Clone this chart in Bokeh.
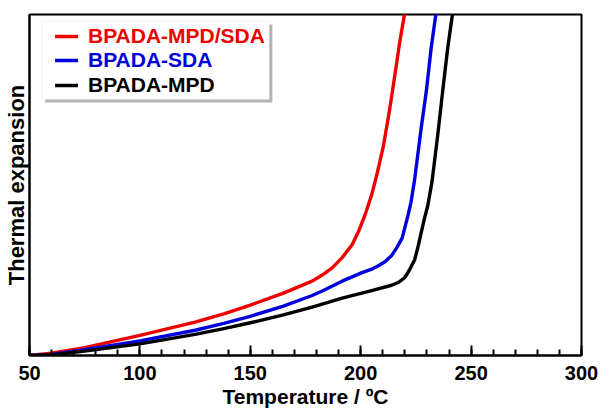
from bokeh.plotting import figure
from bokeh.models import Range1d, FixedTicker, Legend, LegendItem, BoxAnnotation
from bokeh.embed import file_html
from bokeh.resources import INLINE

# ---- data ----
red_x = [50, 60, 75, 100, 125, 138, 150, 165, 178, 182.6, 187.1, 191.6, 196.1, 199.1, 202.0,
         205.0, 207.3, 210.3, 213.2, 215.5, 217.7, 219.9, 220.3]
red_y = [0, 0.7, 2.3, 5.9, 9.8, 12.2, 14.8, 18.3, 21.8, 23.6, 25.7, 28.7, 32.5, 36.5, 41.3,
         47.2, 53.0, 61.5, 72.5, 82.3, 92.0, 100.3, 102.0]

blue_x = [50, 60, 75, 100, 125, 138, 150, 165, 178, 182.6, 191.6, 200.6, 205, 208, 211, 214,
          216.5, 218.8, 221.5, 222.8, 224.4, 227.4, 229.7, 231.9, 234.1, 234.4]
blue_y = [0, 0.3, 1.7, 4.3, 7.4, 9.4, 11.5, 14.5, 17.6, 18.9, 21.8, 24.3, 25.3, 26.3, 27.5, 29.3,
          31.8, 34.5, 41.3, 45.0, 51.5, 66.7, 77.4, 90.1, 100.3, 102.0]

black_x = [50, 60, 75, 100, 125, 138, 150, 165, 178, 191.6, 205, 214, 217, 219.9, 222, 224.4,
           226, 227.4, 229, 230.4, 232.3, 234.9, 237.1, 239.4, 241.6, 242.0]
black_y = [0, 0.2, 1.3, 3.4, 6.2, 7.9, 9.6, 11.9, 14.2, 16.8, 19.0, 20.6, 21.4, 22.8, 25.0, 28.0,
           32.0, 36.0, 40.5, 44.0, 51.0, 64.7, 77.4, 90.1, 100.3, 102.0]

series_names = ["BPADA-MPD/SDA", "BPADA-SDA", "BPADA-MPD"]
series_colors = ["#ee0000", "#0000dd", "#000000"]
x_ticks = [50, 100, 150, 200, 250, 300]
x_minor_ticks = [50, 60, 70, 80, 90, 100, 110, 120, 130, 140, 150, 160, 170, 180, 190, 200,
                 210, 220, 230, 240, 250, 260, 270, 280, 290, 300]

FONT = "Liberation Sans"

p = figure(width=598, height=413, output_backend="svg", toolbar_location=None,
           x_range=Range1d(50, 300), y_range=Range1d(0, 100),
           min_border_left=26, min_border_right=17, min_border_top=14, min_border_bottom=58)

p.xgrid.visible = False
p.ygrid.visible = False
p.outline_line_color = "black"
p.outline_line_width = 2
p.background_fill_color = "white"
p.border_fill_color = "white"

# x axis
xa = p.xaxis[0]
xa.ticker = FixedTicker(ticks=x_ticks, minor_ticks=x_minor_ticks)
xa.axis_line_width = 2
xa.major_tick_in = 10
xa.major_tick_out = 0
xa.minor_tick_in = 6
xa.minor_tick_out = 0
xa.major_tick_line_width = 2
xa.minor_tick_line_width = 2
xa.major_label_text_font = FONT
xa.major_label_text_font_style = "bold"
xa.major_label_text_font_size = "20px"
xa.major_label_text_color = "black"
xa.major_label_standoff = 10
xa.axis_label = "Temperature / ºC"
xa.axis_label_text_font = FONT
xa.axis_label_text_font_style = "bold"
xa.axis_label_text_font_size = "21px"
xa.axis_label_text_color = "black"
xa.axis_label_standoff = 2

# y axis
ya = p.yaxis[0]
ya.ticker = FixedTicker(ticks=[])
ya.axis_line_width = 2
ya.major_tick_line_color = None
ya.minor_tick_line_color = None
ya.axis_label = "Thermal expansion"
ya.axis_label_text_font = FONT
ya.axis_label_text_font_style = "bold"
ya.axis_label_text_font_size = "22px"
ya.axis_label_text_color = "black"
ya.axis_label_standoff = 1

# curves
renderers = []
for xs, ys, c in [(red_x, red_y, series_colors[0]),
                  (blue_x, blue_y, series_colors[1]),
                  (black_x, black_y, series_colors[2])]:
    r = p.line(xs, ys, line_color=c, line_width=3.4, line_join="round", line_cap="round")
    renderers.append(r)

# legend box with shadow
shadow = BoxAnnotation(left=57.1, right=160.0, top=97.1, bottom=74.2,
                       fill_color="#9a9a9a", fill_alpha=0.75, line_color=None)
box = BoxAnnotation(left=55.7, right=158.6, top=98.0, bottom=75.1,
                    fill_color="white", fill_alpha=1.0, line_color="#d8d8d8", line_width=1)
p.add_layout(shadow)
p.add_layout(box)

# three single-item legends so each label has its own colour
legend_y = [307, 283, 258]
for name, col, r, ly in zip(series_names, series_colors, renderers, legend_y):
    lg = Legend(items=[LegendItem(label=name, renderers=[r])],
                location=(26, ly), orientation="vertical",
                padding=0, margin=0, spacing=0,
                border_line_color=None, background_fill_alpha=0,
                glyph_width=23, glyph_height=24, label_height=24,
                label_standoff=10,
                label_text_font=FONT, label_text_font_style="bold",
                label_text_font_size="21px", label_text_color=col)
    p.add_layout(lg)

open("out.html", "w").write(file_html(p, INLINE))
